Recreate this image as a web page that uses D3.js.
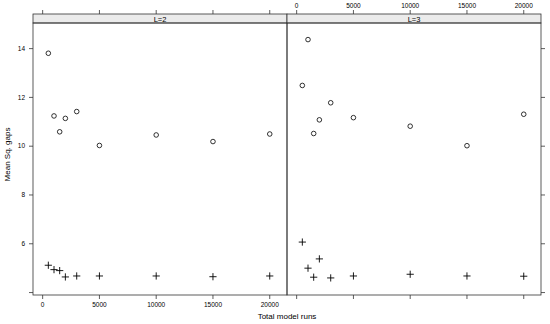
<!DOCTYPE html>
<html>
<head>
<meta charset="utf-8">
<script src="https://cdn.jsdelivr.net/npm/d3@7"></script>
<style>
  body { margin: 0; background: #fff; }
  svg { font-family: "Liberation Sans", Arial, sans-serif; }
  text { fill: #000; }
</style>
</head>
<body>
<svg id="vis"></svg>
<script>
// data
const panels = ["L=2", "L=3"];
const runs = [500, 1000, 1500, 2000, 3000, 5000, 10000, 15000, 20000];
const circlesL2 = [13.81, 11.24, 10.59, 11.14, 11.42, 10.03, 10.46, 10.19, 10.50];
const crossesL2 = [5.12, 4.94, 4.90, 4.64, 4.68, 4.68, 4.68, 4.65, 4.68];
const circlesL3 = [12.49, 14.37, 10.52, 11.08, 11.78, 11.17, 10.82, 10.02, 11.31];
const crossesL3 = [6.07, 5.00, 4.63, 5.38, 4.60, 4.68, 4.75, 4.68, 4.67];
const xTicks = [0, 5000, 10000, 15000, 20000];
const yTicks = [4, 6, 8, 10, 12, 14];
const yLabelled = [6, 8, 10, 12, 14];

const W = 550, H = 324;
const padL = 33, padR = 541, padT = 14, stripH = 9, padB = 295;
const panelW = (padR - padL) / 2;

const svg = d3.select("#vis").attr("width", W).attr("height", H);

const y = d3.scaleLinear().domain([3.9, 15.05]).range([padB, padT + stripH]);

const series = [
  { circles: circlesL2, crosses: crossesL2 },
  { circles: circlesL3, crosses: crossesL3 }
];

panels.forEach((name, i) => {
  const x0 = padL + i * panelW;
  const x = d3.scaleLinear().domain([-850, 21520]).range([x0, x0 + panelW]);
  const g = svg.append("g");

  // strip
  g.append("rect")
    .attr("x", x0).attr("y", padT)
    .attr("width", panelW).attr("height", stripH)
    .attr("fill", "#ebebeb").attr("stroke", "#333").attr("stroke-width", 0.8);
  g.append("text")
    .attr("x", x0 + panelW / 2).attr("y", padT + stripH - 1.5)
    .attr("text-anchor", "middle").attr("font-size", 7.5)
    .text(name);

  // panel box
  g.append("rect")
    .attr("x", x0).attr("y", padT + stripH)
    .attr("width", panelW).attr("height", padB - padT - stripH)
    .attr("fill", "none").attr("stroke", "#333").attr("stroke-width", 0.8);

  // x ticks: left panel labelled at bottom, right panel at top
  xTicks.forEach(t => {
    g.append("line")
      .attr("x1", x(t)).attr("x2", x(t))
      .attr("y1", padB).attr("y2", padB + 4)
      .attr("stroke", "#333").attr("stroke-width", 0.8);
    g.append("line")
      .attr("x1", x(t)).attr("x2", x(t))
      .attr("y1", padT).attr("y2", padT - 4)
      .attr("stroke", "#333").attr("stroke-width", 0.8);
    g.append("text")
      .attr("x", x(t))
      .attr("y", i === 0 ? padB + 12 : padT - 6)
      .attr("text-anchor", "middle").attr("font-size", 6.5)
      .text(t);
  });

  // points
  const s = series[i];
  g.selectAll("circle.pt")
    .data(runs.map((r, k) => ({ x: r, y: s.circles[k] })))
    .enter().append("circle")
    .attr("cx", d => x(d.x)).attr("cy", d => y(d.y))
    .attr("r", 2.3)
    .attr("fill", "none").attr("stroke", "#000").attr("stroke-width", 0.8);

  g.selectAll("path.cross")
    .data(runs.map((r, k) => ({ x: r, y: s.crosses[k] })))
    .enter().append("path")
    .attr("d", d => {
      const cx = x(d.x), cy = y(d.y), h = 3.6;
      return `M${cx - h},${cy}H${cx + h}M${cx},${cy - h}V${cy + h}`;
    })
    .attr("stroke", "#000").attr("stroke-width", 0.9);
});

// y ticks: labels on the left, plain ticks on the right
yTicks.forEach(t => {
  svg.append("line")
    .attr("x1", padL).attr("x2", padL - 4)
    .attr("y1", y(t)).attr("y2", y(t))
    .attr("stroke", "#333").attr("stroke-width", 0.8);
  svg.append("line")
    .attr("x1", padR).attr("x2", padR + 4)
    .attr("y1", y(t)).attr("y2", y(t))
    .attr("stroke", "#333").attr("stroke-width", 0.8);
  if (yLabelled.includes(t)) {
    svg.append("text")
      .attr("x", padL - 8).attr("y", y(t) + 2.3)
      .attr("text-anchor", "end").attr("font-size", 6.5)
      .text(t);
  }
});

// axis titles
svg.append("text")
  .attr("x", (padL + padR) / 2).attr("y", 319)
  .attr("text-anchor", "middle").attr("font-size", 8)
  .text("Total model runs");
svg.append("text")
  .attr("transform", `translate(10,${(padT + padB) / 2}) rotate(-90)`)
  .attr("text-anchor", "middle").attr("font-size", 8)
  .text("Mean Sq. gaps");
</script>
</body>
</html>
